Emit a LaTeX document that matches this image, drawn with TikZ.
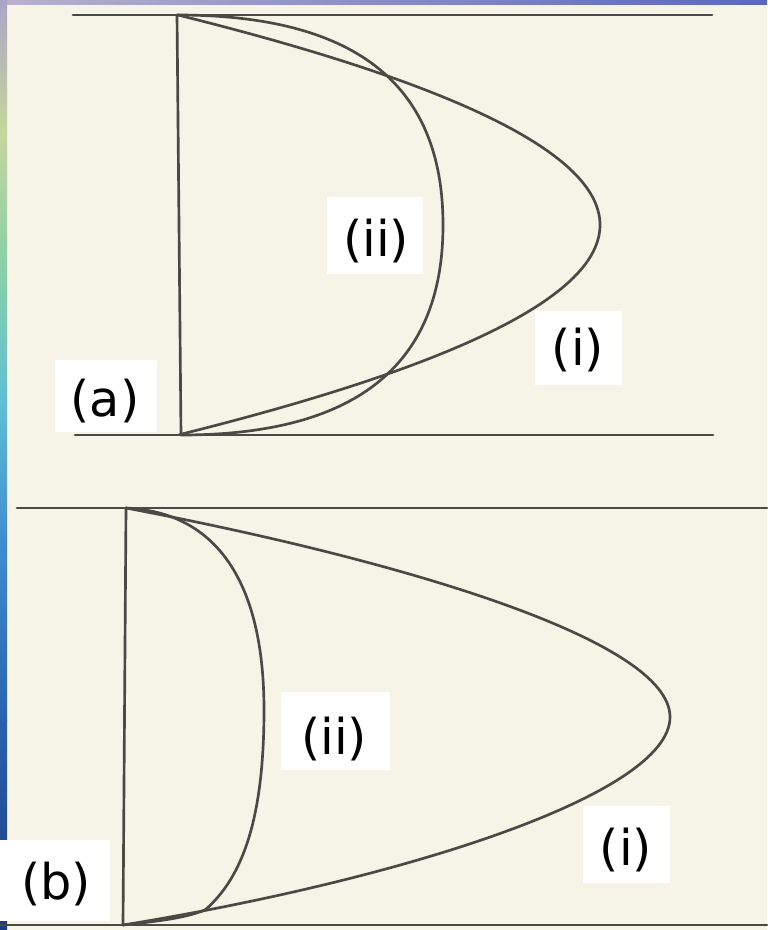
\documentclass[tikz,border=0pt]{standalone}
\usepackage{fontspec}
\setmainfont{DejaVu Sans}
\definecolor{paper}{HTML}{F6F4E7}
\definecolor{linec}{HTML}{4A4945}
\definecolor{s0}{HTML}{ABA5C6}
\definecolor{s1}{HTML}{C6D69C}
\definecolor{s2}{HTML}{88D0A8}
\definecolor{s3}{HTML}{5FC0D4}
\definecolor{s4}{HTML}{3F8ED0}
\definecolor{s5}{HTML}{2A62B0}
\definecolor{s6}{HTML}{1E3A80}
\definecolor{t0}{HTML}{B8B2CC}
\definecolor{t1}{HTML}{5A66C0}
\begin{document}
\begin{tikzpicture}[x=0.75pt,y=-0.75pt,
  ln/.style={draw=linec,line width=2pt,line cap=round,line join=round},
  lab/.style={font=\fontsize{37}{44}\selectfont,inner sep=0pt,text=black},
  labbox/.style={fill=white,draw=none}]
\useasboundingbox (0,0) rectangle (767,930);
% background
\fill[paper] (0,0) rectangle (767,930);
\shade[left color=t0,right color=t1] (0,0) rectangle (767,5);
\shade[top color=s0,bottom color=s1] (0,0) rectangle (7,130);
\shade[top color=s1,bottom color=s2] (0,130) rectangle (7,270);
\shade[top color=s2,bottom color=s3] (0,270) rectangle (7,400);
\shade[top color=s3,bottom color=s4] (0,400) rectangle (7,540);
\shade[top color=s4,bottom color=s5] (0,540) rectangle (7,720);
\shade[top color=s5,bottom color=s6] (0,720) rectangle (7,930);

% ---------- panel (a) ----------
\coordinate (aTL) at (73,15);
\coordinate (aTR) at (712,15);
\coordinate (aBL) at (75,435);
\coordinate (aBR) at (713,435);
\coordinate (aV1) at (177,15);
\coordinate (aV2) at (181,435);
\draw[ln] (aTL) -- (aTR);
\draw[ln] (aBL) -- (aBR);
\draw[ln] (aV1) -- (aV2);
% curve (i): parabola
\draw[ln] plot[domain=-1:1,samples=100,variable=\t] ({178+422*(1-\t*\t)},{225+210*\t});
% curve (ii)
\coordinate (aiiT) at (443,225);
\draw[ln] (aV1) .. controls (350,15) and (443,80) .. (aiiT)
              .. controls (443,370) and (350,435) .. (aV2);

% ---------- panel (b) ----------
\coordinate (bTL) at (17,508);
\coordinate (bTR) at (767,508);
\coordinate (bBL) at (0,925);
\coordinate (bBR) at (767,925);
\coordinate (bV1) at (126,508);
\coordinate (bV2) at (123,925);
\draw[ln] (bTL) -- (bTR);
\draw[ln] (bBL) -- (bBR);
\draw[ln] (bV1) -- (bV2);
% curve (i)
\coordinate (biT) at (670,717);
\draw[ln] (bV1) .. controls (400,560) and (670,640) .. (biT)
              .. controls (670,795) and (400,880) .. (bV2);
% curve (ii)
\coordinate (biiT) at (264,710);
\coordinate (biiJ) at (205,910);
\draw[ln] (bV1) .. controls (215,512) and (264,580) .. (biiT)
              .. controls (264,820) and (242,878) .. (biiJ)
              .. controls (185,918) and (160,921) .. (bV2);

% ---------- labels ----------
\fill[labbox] (55,360) rectangle (157,432);
\node[lab] (la) at (105,401) {(a)};
\fill[labbox] (327,197) rectangle (423,274);
\node[lab] (laii) at (376,241) {(ii)};
\fill[labbox] (535,311) rectangle (622,385);
\node[lab] (lai) at (578,350) {(i)};
\fill[labbox] (0,840) rectangle (110,921);
\node[lab] (lb) at (56,884) {(b)};
\fill[labbox] (281,692) rectangle (390,770);
\node[lab] (lbii) at (334,739) {(ii)};
\fill[labbox] (583,806) rectangle (670,883);
\node[lab] (lbi) at (626,850) {(i)};
\end{tikzpicture}
\end{document}
